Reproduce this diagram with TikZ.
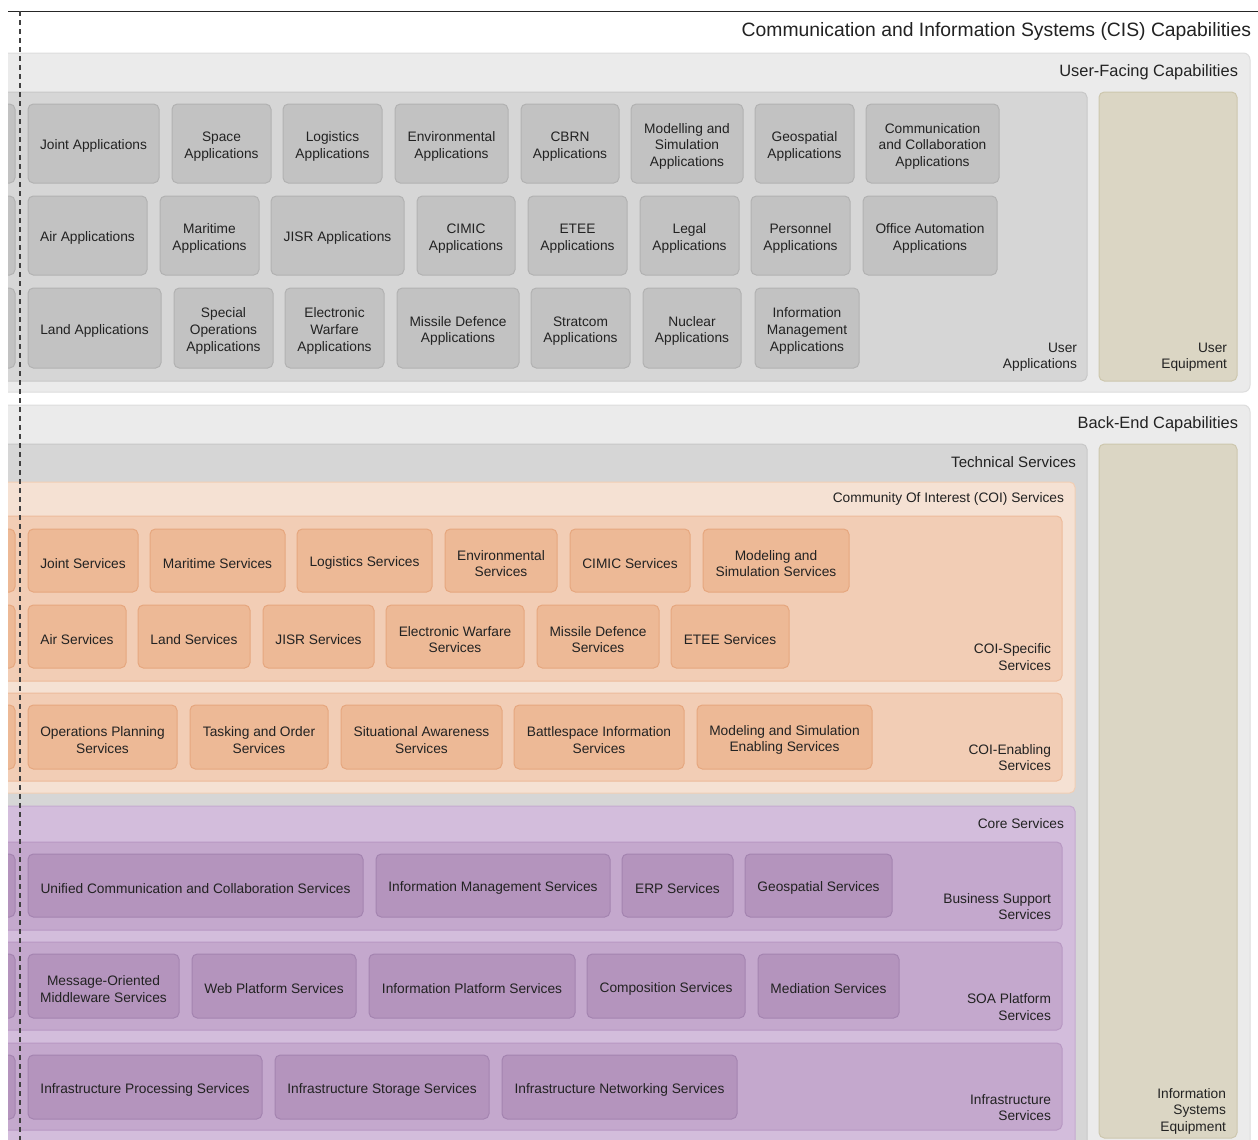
\documentclass[tikz,border=0pt]{standalone}
\usepackage{fontspec}
\setmainfont{Liberation Sans}
\newdimen\pxu \pxu=0.75pt
\definecolor{txt}{HTML}{222222}
\definecolor{outerF}{HTML}{EBEBEB}\definecolor{outerD}{HTML}{DDDDDD}
\definecolor{uaF}{HTML}{D6D6D6}\definecolor{uaD}{HTML}{C8C8C8}
\definecolor{abF}{HTML}{C2C2C2}\definecolor{abD}{HTML}{B2B2B2}
\definecolor{eqF}{HTML}{DBD6C4}\definecolor{eqD}{HTML}{CDC7AE}
\definecolor{coiF}{HTML}{F5E1D3}\definecolor{coiD}{HTML}{F1CEB4}
\definecolor{csF}{HTML}{F2CDB5}\definecolor{csD}{HTML}{EDBB9B}
\definecolor{cbF}{HTML}{EDB996}\definecolor{cbD}{HTML}{E6A77F}
\definecolor{coreF}{HTML}{D3BDDC}\definecolor{coreD}{HTML}{C5ABD0}
\definecolor{ssF}{HTML}{C4A8CD}\definecolor{ssD}{HTML}{B898C3}
\definecolor{pbF}{HTML}{B494BD}\definecolor{pbD}{HTML}{A484B0}
\tikzset{
  base/.style={inner sep=0pt, outer sep=0pt, line width=0.75pt},
  boxtext/.style={inner sep=0pt, outer sep=0pt, align=center, text=txt,
    font=\fontsize{10.3}{12.4}\selectfont},
  outerbox/.style={base, fill=outerF, draw=outerD, rounded corners=5pt},
  uabox/.style={base, fill=uaF, draw=uaD, rounded corners=4pt},
  appbox/.style={base, fill=abF, draw=abD, rounded corners=4pt},
  eqbox/.style={base, fill=eqF, draw=eqD, rounded corners=4pt},
  coibox/.style={base, fill=coiF, draw=coiD, rounded corners=4pt},
  csbox/.style={base, fill=csF, draw=csD, rounded corners=4pt},
  cbbox/.style={base, fill=cbF, draw=cbD, rounded corners=4pt},
  corebox/.style={base, fill=coreF, draw=coreD, rounded corners=4pt},
  ssbox/.style={base, fill=ssF, draw=ssD, rounded corners=4pt},
  pbbox/.style={base, fill=pbF, draw=pbD, rounded corners=4pt},
  lbl/.style={inner sep=0pt, outer sep=0pt, align=right, anchor=east, text=txt,
    font=\fontsize{10.3}{12.4}\selectfont},
  lblmid/.style={lbl, font=\fontsize{11.3}{13}\selectfont},
  lblbig/.style={lbl, font=\fontsize{12.3}{14}\selectfont},
  lbltitle/.style={lbl, font=\fontsize{14.5}{16}\selectfont},
  guide/.style={draw=black!75, line width=0.8pt, dash pattern=on 3.75pt off 3pt},
  topline/.style={draw=black!85, line width=0.75pt}
}
\newcommand\bx[7]{\node[#1, minimum width={(#5-#3)*\pxu}, minimum height={(#6-#4)*\pxu}] (#2) at ({(#3+#5)/2},{(#4+#6)/2}) {};
  \node[boxtext] (#2-t) at ([yshift=-2.2pt]#2.center) {#7};}
\begin{document}
\begin{tikzpicture}[x=0.75pt, y=-0.75pt]
\useasboundingbox[fill=white] (0,0) rectangle (1258,1140);
\begin{scope}
\clip (8,0) rectangle (1258,1140);
\coordinate (tl) at (8,11);
\coordinate (tr) at (1258,11);
\draw[topline] (tl) -- (tr);
\node[lbltitle] (title) at (1251,31) {Communication and Information Systems (CIS) Capabilities};
% ---------- User-Facing ----------
\bx{outerbox}{ufc}{-20}{53}{1250}{392}{}
\node[lblbig] (ufcl) at (1238,72) {User-Facing Capabilities};
\bx{uabox}{ua}{-20}{92}{1087}{381}{}
\bx{eqbox}{ue}{1099}{92}{1237}{381}{}
\node[lbl] (ual) at (1077,357) {User\\Applications};
\node[lbl] (uel) at (1227,357) {User\\Equipment};
% row 1
\bx{appbox}{a0}{-60}{104}{15}{183}{}
\bx{appbox}{a1}{28}{104}{159}{183}{Joint Applications}
\bx{appbox}{a2}{172}{104}{271}{183}{Space\\Applications}
\bx{appbox}{a3}{283}{104}{382}{183}{Logistics\\Applications}
\bx{appbox}{a4}{395}{104}{508}{183}{Environmental\\Applications}
\bx{appbox}{a5}{521}{104}{619}{183}{CBRN\\Applications}
\bx{appbox}{a6}{631}{104}{743}{183}{Modelling and\\Simulation\\Applications}
\bx{appbox}{a7}{755}{104}{854}{183}{Geospatial\\Applications}
\bx{appbox}{a8}{866}{104}{999}{183}{Communication\\and Collaboration\\Applications}
% row 2
\bx{appbox}{b0}{-60}{196}{15}{275}{}
\bx{appbox}{b1}{28}{196}{147}{275}{Air Applications}
\bx{appbox}{b2}{160}{196}{259}{275}{Maritime\\Applications}
\bx{appbox}{b3}{271}{196}{404}{275}{JISR Applications}
\bx{appbox}{b4}{417}{196}{515}{275}{CIMIC\\Applications}
\bx{appbox}{b5}{528}{196}{627}{275}{ETEE\\Applications}
\bx{appbox}{b6}{640}{196}{739}{275}{Legal\\Applications}
\bx{appbox}{b7}{751}{196}{850}{275}{Personnel\\Applications}
\bx{appbox}{b8}{863}{196}{997}{275}{Office Automation\\Applications}
% row 3
\bx{appbox}{c0}{-60}{288}{15}{368}{}
\bx{appbox}{c1}{28}{288}{161}{368}{Land Applications}
\bx{appbox}{c2}{174}{288}{273}{368}{Special\\Operations\\Applications}
\bx{appbox}{c3}{285}{288}{384}{368}{Electronic\\Warfare\\Applications}
\bx{appbox}{c4}{397}{288}{519}{368}{Missile Defence\\Applications}
\bx{appbox}{c5}{531}{288}{630}{368}{Stratcom\\Applications}
\bx{appbox}{c6}{643}{288}{741}{368}{Nuclear\\Applications}
\bx{appbox}{c7}{755}{288}{859}{368}{Information\\Management\\Applications}
% ---------- Back-End ----------
\bx{outerbox}{bec}{-20}{405}{1250}{1170}{}
\node[lblbig] (becl) at (1238,424) {Back-End Capabilities};
\bx{uabox}{ts}{-20}{444}{1087}{1170}{}
\node[lblmid] (tsl) at (1076,462) {Technical Services};
\bx{eqbox}{ise}{1099}{444}{1237}{1138}{}
\node[lbl] (isel) at (1226,1111) {Information\\Systems\\Equipment};
% COI
\bx{coibox}{coi}{-20}{482}{1075}{793}{}
\node[lbl] (coil) at (1064,499) {Community Of Interest (COI) Services};
\bx{csbox}{coisp}{-20}{516}{1062}{681}{}
\node[lbl] (coispl) at (1051,657) {COI-Specific\\Services};
\bx{cbbox}{d0}{-60}{529}{15}{592}{}
\bx{cbbox}{d1}{28}{529}{138}{592}{Joint Services}
\bx{cbbox}{d2}{150}{529}{285}{592}{Maritime Services}
\bx{cbbox}{d3}{297}{529}{432}{592}{Logistics Services}
\bx{cbbox}{d4}{445}{529}{557}{592}{Environmental\\Services}
\bx{cbbox}{d5}{570}{529}{690}{592}{CIMIC Services}
\bx{cbbox}{d6}{703}{529}{849}{592}{Modeling and\\Simulation Services}
\bx{cbbox}{e0}{-60}{605}{15}{668}{}
\bx{cbbox}{e1}{28}{605}{126}{668}{Air Services}
\bx{cbbox}{e2}{138}{605}{250}{668}{Land Services}
\bx{cbbox}{e3}{263}{605}{374}{668}{JISR Services}
\bx{cbbox}{e4}{386}{605}{524}{668}{Electronic Warfare\\Services}
\bx{cbbox}{e5}{537}{605}{659}{668}{Missile Defence\\Services}
\bx{cbbox}{e6}{671}{605}{789}{668}{ETEE Services}
\bx{csbox}{coien}{-20}{693}{1062}{781}{}
\node[lbl] (coienl) at (1051,757.5) {COI-Enabling\\Services};
\bx{cbbox}{f0}{-60}{705}{15}{769}{}
\bx{cbbox}{f1}{28}{705}{177}{769}{Operations Planning\\Services}
\bx{cbbox}{f2}{190}{705}{328}{769}{Tasking and Order\\Services}
\bx{cbbox}{f3}{341}{705}{502}{769}{Situational Awareness\\Services}
\bx{cbbox}{f4}{514}{705}{684}{769}{Battlespace Information\\Services}
\bx{cbbox}{f5}{697}{705}{872}{769}{Modeling and Simulation\\Enabling Services}
% Core
\bx{corebox}{core}{-20}{806}{1075}{1170}{}
\node[lbl] (corel) at (1064,824) {Core Services};
\bx{ssbox}{bss}{-20}{842}{1062}{930}{}
\node[lbl] (bssl) at (1051,906.5) {Business Support\\Services};
\bx{pbbox}{g0}{-60}{854}{15}{917}{}
\bx{pbbox}{g1}{28}{854}{363}{917}{Unified Communication and Collaboration Services}
\bx{pbbox}{g2}{376}{854}{610}{917}{Information Management Services}
\bx{pbbox}{g3}{622}{854}{733}{917}{ERP Services}
\bx{pbbox}{g4}{745}{854}{892}{917}{Geospatial Services}
\bx{ssbox}{soa}{-20}{942}{1062}{1030}{}
\node[lbl] (soal) at (1051,1007) {SOA Platform\\Services};
\bx{pbbox}{h0}{-60}{954}{15}{1018}{}
\bx{pbbox}{h1}{28}{954}{179}{1018}{Message-Oriented\\Middleware Services}
\bx{pbbox}{h2}{192}{954}{356}{1018}{Web Platform Services}
\bx{pbbox}{h3}{369}{954}{575}{1018}{Information Platform Services}
\bx{pbbox}{h4}{587}{954}{745}{1018}{Composition Services}
\bx{pbbox}{h5}{758}{954}{899}{1018}{Mediation Services}
\bx{ssbox}{inf}{-20}{1043}{1062}{1130}{}
\node[lbl] (infl) at (1051,1107.5) {Infrastructure\\Services};
\bx{pbbox}{k0}{-60}{1055}{15}{1119}{}
\bx{pbbox}{k1}{28}{1055}{262}{1119}{Infrastructure Processing Services}
\bx{pbbox}{k2}{275}{1055}{489}{1119}{Infrastructure Storage Services}
\bx{pbbox}{k3}{502}{1055}{737}{1119}{Infrastructure Networking Services}
% dashed guide
\coordinate (gtop) at (20,11);
\coordinate (gbot) at (20,1145);
\draw[guide] (gtop) -- (gbot);
\end{scope}
\end{tikzpicture}
\end{document}
